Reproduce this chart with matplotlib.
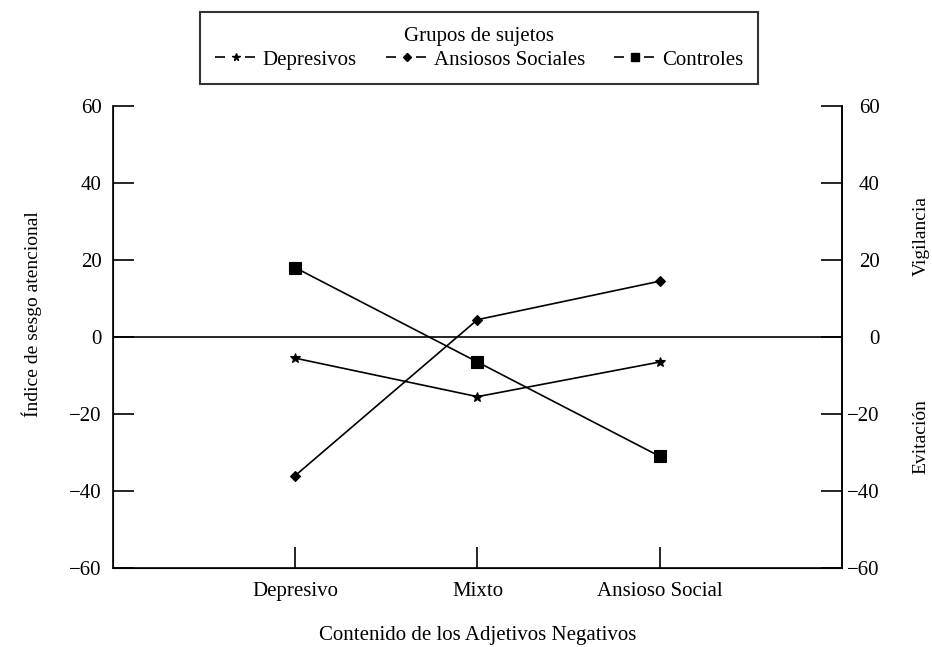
import matplotlib
matplotlib.use("Agg")
import matplotlib.pyplot as plt
from matplotlib.lines import Line2D

plt.rcParams['font.family'] = ['Liberation Serif', 'DejaVu Serif']

# Data
categorias = ["Depresivo", "Mixto", "Ansioso Social"]
grupos = ["Depresivos", "Ansiosos Sociales", "Controles"]
depresivos = [-5.5, -15.5, -6.5]
ansiosos = [-36, 4.5, 14.5]
controles = [18, -6.5, -31]
marcadores = ["*", "D", "s"]
yticks = [-60, -40, -20, 0, 20, 40, 60]

FS = 15

fig = plt.figure(figsize=(9.32, 6.47), dpi=100)
ax = fig.add_axes([0.1212, 0.1221, 0.7822, 0.7141])

x = [1, 2, 3]
series = [depresivos, ansiosos, controles]
sizes = [7, 5, 8]
for vals, m, s in zip(series, marcadores, sizes):
    ax.plot(x, vals, color="black", lw=1.2, marker=m, markersize=s,
            markeredgewidth=0.8)

ax.axhline(0, color="black", lw=1.2)
ax.set_xlim(0, 4)
ax.set_ylim(-60, 60)
etiquetas_y = [str(v).replace("-", "\u2212") for v in yticks]
ax.set_yticks(yticks)
ax.set_yticklabels(etiquetas_y, fontsize=FS)
ax.set_xticks(x)
ax.set_xticklabels(categorias, fontsize=FS)
ax.tick_params(axis="y", direction="in", length=15, width=1.2, pad=8)
ax.tick_params(axis="x", direction="in", length=15, width=1.2, pad=10)
ax.spines["top"].set_visible(False)
for sp in ["left", "right", "bottom"]:
    ax.spines[sp].set_linewidth(1.2)

ax.set_xlabel("Contenido de los Adjetivos Negativos", fontsize=FS, labelpad=18)
fig.text(32 / 932, 1 - 314 / 647, "Índice de sesgo atencional", rotation=90,
         ha="center", va="center", fontsize=14)

# right axis
ax2 = ax.twinx()
ax2.set_ylim(-60, 60)
ax2.set_yticks(yticks)
ax2.set_yticklabels(etiquetas_y, fontsize=FS, ha="right")
ax2.tick_params(axis="y", direction="in", length=15, width=1.2, pad=27)
ax2.spines["top"].set_visible(False)
ax2.spines["right"].set_linewidth(1.2)
fig.text(921 / 932, 1 - 236 / 647, "Vigilancia", rotation=90, ha="center",
         va="center", fontsize=14)
fig.text(921 / 932, 1 - 437 / 647, "Evitación", rotation=90, ha="center",
         va="center", fontsize=14)

# legend
handles = [Line2D([0], [0], color="black", lw=1.2, ls=(0, (6, 12)), marker=m,
                  markersize=s * 0.8) for m, s in zip(marcadores, sizes)]
leg = fig.legend(handles, grupos, loc="upper center", bbox_to_anchor=(0.514, 0.981),
                 ncol=3, title="Grupos de sujetos", fontsize=FS, title_fontsize=FS,
                 frameon=True, fancybox=False, edgecolor="black", handlelength=2.0,
                 handletextpad=0.3, columnspacing=1.4, borderpad=0.7, numpoints=1,
                 labelspacing=0.2, borderaxespad=0)
leg.get_frame().set_linewidth(1.5)

fig.savefig("out.png", dpi=100)
